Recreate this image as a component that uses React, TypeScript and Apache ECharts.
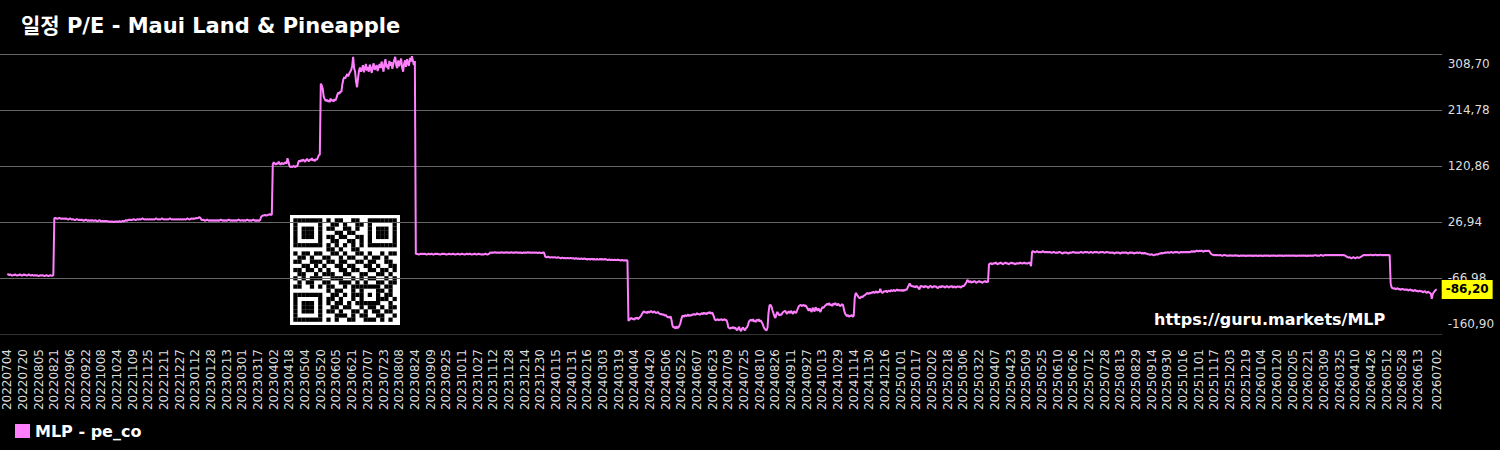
import React, { useEffect, useRef } from "react";
import * as echarts from "echarts";

const TITLE = "일정 P/E - Maui Land & Pineapple";
const SERIES_NAME = "MLP - pe_co";
const URL_TEXT = "https://guru.markets/MLP";
const LINE_COLOR = "#ff7fff";

const FIRST_DATE = "2022-07-04";
const LAST_DATE = "2026-07-02";

const Y_MIN = -160.9;
const Y_MAX = 308.7;
const Y_INTERVAL = 93.92;

// P/E values per month (each inner array = consecutive days of that month)
const pe2022: number[][] = [
  [-60,-61,-62,-61,-62,-63,-62,-62,-61,-62,-63,-62,-62,-61,-62,-63,-62,-61,-62,-62,-63,-62,-61,-62,-63,-62,-62,-63],
  [-62,-63,-62,-63,-64,-63,-62,-63,-62,-63,-64,-63,-62,-63,-64,-63,-62,-63,-63,-62,33,34,33,32,33,34,33,32,33,32,33],
  [32,33,32,31,32,33,32,31,32,31,30,31,32,31,30,31,30,31,30,29,30,31,30,29,30,29,30,29,30,29],
  [29,30,29,28,29,30,29,28,29,28,29,28,29,28,28,27,28,27,28,27,27,28,27,28,27,28,28,27,28,29,28],
  [29,30,29,30,31,30,31,30,31,32,31,30,31,32,31,32,31,32,33,32,31,32,31,32,31,32,31,32,31,32],
  [31,32,33,32,31,32,31,32,33,32,31,32,31,32,31,32,33,32,31,32,31,32,31,32,31,32,31,32,31,32,31],
];
const pe2023: number[][] = [
  [32,31,32,33,32,31,32,33,32,33,32,33,34,33,34,35,34,31,30,31,30,29,30,31,30,29,30,29,30,29,30],
  [29,30,29,30,29,30,31,30,29,30,29,30,29,30,31,30,29,30,29,30,29,30,29,30,31,30,29,30],
  [30,29,30,29,30,31,30,29,30,29,30,31,30,29,30,29,30,29,30,35,37,38,38,39,38,38,39,39,40,39,39],
  [124,127,125,123,126,124,128,125,123,126,125,124,126,127,125,134,128,121,119,120,119,121,120,119,121,120,127,130,128,131],
  [129,132,130,128,131,133,130,129,132,131,134,130,132,129,133,131,135,139,140,259,256,250,237,233,230,232,229,231,228,234,230],
  [232,229,233,231,235,241,244,242,246,245,258,266,270,268,272,275,271,276,279,282,288,304,285,279,262,253,268,281,286,279],
  [283,290,278,285,292,281,287,279,291,284,277,288,293,282,286,290,280,287,292,285,296,288,279,294,300,286,291,283,297,289,295],
  [284,292,299,304,290,285,298,288,295,301,286,279,292,298,287,300,293,289,302,296,305,298,290,297,-27,-26,-27,-28,-27,-26,-27],
  [-26,-27,-26,-27,-28,-27,-26,-27,-27,-26,-27,-28,-27,-26,-27,-26,-27,-27,-28,-27,-26,-27,-26,-27,-28,-27,-27,-26,-27,-27],
  [-27,-26,-27,-28,-27,-27,-26,-27,-28,-27,-26,-27,-27,-28,-27,-26,-27,-27,-26,-27,-28,-27,-27,-26,-27,-28,-27,-26,-27,-27,-28],
  [-27,-28,-27,-26,-27,-28,-27,-26,-24,-25,-24,-25,-24,-24,-25,-24,-25,-24,-25,-24,-24,-25,-24,-25,-24,-24,-25,-24,-25,-24],
  [-24,-25,-24,-25,-24,-24,-25,-24,-25,-24,-25,-25,-24,-25,-24,-25,-24,-24,-25,-24,-25,-24,-25,-24,-25,-24,-25,-25,-24,-25,-25],
];
const pe2024: number[][] = [
  [-25,-24,-25,-31,-32,-32,-31,-32,-33,-32,-32,-33,-32,-32,-33,-33,-32,-33,-33,-34,-33,-33,-34,-33,-34,-34,-33,-34,-34,-33,-34],
  [-34,-34,-35,-34,-34,-35,-34,-35,-35,-34,-35,-35,-34,-35,-35,-36,-35,-35,-36,-35,-35,-36,-35,-36,-36,-35,-36,-36,-35],
  [-36,-35,-36,-36,-35,-36,-36,-37,-36,-36,-37,-36,-37,-37,-36,-37,-37,-36,-37,-37,-38,-37,-37,-38,-37,-38,-37,-38,-139,-137,-135],
  [-134,-136,-135,-137,-134,-135,-133,-136,-134,-132,-130,-127,-124,-123,-125,-124,-126,-123,-125,-124,-122,-124,-125,-123,-124,-126,-125,-124,-126,-127],
  [-128,-127,-129,-128,-130,-129,-131,-133,-132,-134,-131,-138,-147,-150,-149,-152,-148,-151,-150,-147,-143,-136,-131,-130,-132,-129,-131,-130,-128,-131,-129],
  [-130,-128,-129,-127,-129,-128,-126,-128,-127,-129,-127,-126,-128,-125,-127,-126,-128,-125,-126,-124,-127,-125,-126,-131,-136,-138,-137,-136,-138,-137],
  [-137,-136,-138,-137,-136,-138,-137,-142,-150,-151,-152,-150,-151,-149,-152,-150,-153,-155,-151,-149,-154,-156,-152,-150,-153,-155,-151,-150,-146,-140,-138],
  [-137,-139,-136,-140,-138,-141,-137,-139,-136,-140,-138,-141,-144,-149,-152,-154,-155,-150,-125,-113,-112,-115,-121,-126,-131,-134,-128,-124,-127,-130,-128],
  [-129,-126,-124,-123,-122,-125,-127,-124,-123,-126,-122,-125,-127,-123,-124,-126,-122,-118,-114,-113,-112,-114,-113,-112,-114,-113,-116,-119,-122,-118],
  [-121,-124,-117,-120,-123,-116,-119,-122,-118,-121,-124,-119,-116,-117,-115,-113,-112,-110,-112,-109,-113,-111,-114,-110,-112,-109,-111,-113,-110,-112,-114],
  [-113,-111,-112,-120,-126,-129,-131,-129,-132,-130,-131,-129,-132,-130,-100,-92,-94,-97,-99,-101,-100,-98,-99,-97,-96,-95,-93,-92,-94,-92],
  [-93,-91,-92,-90,-92,-91,-89,-92,-90,-91,-85,-90,-92,-91,-89,-90,-88,-91,-89,-88,-90,-87,-89,-88,-87,-89,-88,-86,-88,-87,-88],
];
const pe2025: number[][] = [
  [-88,-87,-89,-87,-88,-86,-87,-83,-80,-76,-79,-81,-80,-82,-81,-83,-80,-82,-84,-86,-81,-80,-82,-81,-83,-80,-82,-81,-84,-82,-80],
  [-81,-83,-82,-80,-82,-81,-83,-84,-82,-81,-83,-80,-82,-81,-83,-82,-80,-82,-83,-81,-82,-80,-83,-82,-81,-83,-82,-81],
  [-82,-81,-83,-82,-80,-81,-79,-77,-74,-70,-73,-74,-72,-75,-73,-74,-72,-73,-75,-74,-73,-72,-74,-73,-75,-74,-73,-72,-74,-73,-74],
  [-44,-43,-42,-44,-43,-42,-43,-41,-43,-44,-42,-43,-41,-42,-44,-43,-42,-41,-43,-42,-44,-43,-42,-41,-43,-42,-43,-44,-42,-43],
  [-42,-43,-41,-42,-43,-42,-41,-43,-42,-43,-42,-41,-43,-47,-23,-22,-23,-24,-23,-22,-23,-24,-23,-24,-23,-22,-23,-24,-23,-24,-23],
  [-24,-23,-24,-25,-24,-23,-24,-25,-24,-25,-24,-23,-24,-25,-26,-25,-24,-25,-24,-25,-26,-25,-24,-25,-24,-23,-24,-25,-24,-25],
  [-24,-25,-24,-23,-24,-25,-24,-23,-24,-23,-24,-25,-24,-23,-24,-25,-24,-23,-24,-23,-24,-25,-24,-23,-24,-23,-24,-25,-24,-23,-24],
  [-24,-25,-24,-25,-24,-25,-26,-25,-24,-25,-24,-25,-26,-25,-24,-25,-24,-25,-24,-25,-26,-25,-24,-25,-24,-25,-26,-25,-25,-24,-25],
  [-25,-24,-25,-26,-25,-26,-25,-26,-26,-27,-27,-28,-28,-27,-28,-29,-28,-28,-27,-28,-27,-26,-26,-25,-26,-25,-25,-24,-25,-24],
  [-24,-25,-24,-23,-24,-25,-24,-23,-24,-23,-24,-25,-24,-23,-24,-23,-24,-23,-24,-23,-24,-23,-24,-23,-22,-23,-22,-23,-22,-21,-22],
  [-22,-21,-22,-21,-22,-23,-21,-22,-21,-22,-21,-22,-25,-27,-28,-28,-29,-28,-29,-28,-29,-29,-28,-29,-30,-29,-28,-29,-29,-30],
  [-29,-30,-29,-29,-30,-29,-30,-29,-29,-30,-29,-30,-30,-29,-30,-29,-30,-29,-30,-30,-29,-30,-29,-30,-29,-30,-30,-29,-30,-29,-30],
];
const pe2026: number[][] = [
  [-30,-29,-30,-29,-30,-30,-29,-30,-29,-30,-29,-30,-30,-29,-30,-29,-30,-29,-30,-30,-29,-30,-29,-30,-29,-30,-30,-29,-30,-29,-30],
  [-29,-30,-29,-30,-29,-30,-29,-30,-30,-29,-30,-29,-30,-29,-30,-29,-30,-29,-30,-30,-29,-30,-29,-30,-29,-30,-29,-29],
  [-29,-30,-29,-30,-29,-28,-29,-30,-29,-28,-29,-28,-29,-28,-29,-28,-29,-28,-29,-28,-29,-28,-29,-28,-29,-28,-29,-28,-29,-29,-30],
  [-31,-32,-33,-32,-33,-34,-33,-32,-33,-34,-33,-32,-33,-33,-32,-31,-30,-29,-28,-29,-28,-29,-28,-29,-28,-28,-29,-28,-29,-28],
  [-28,-29,-28,-29,-28,-28,-29,-28,-29,-28,-29,-28,-29,-28,-29,-76,-83,-84,-85,-84,-86,-85,-84,-86,-85,-87,-86,-85,-86,-87,-86],
  [-87,-86,-88,-87,-86,-88,-87,-89,-88,-87,-89,-88,-90,-89,-88,-90,-89,-91,-90,-89,-91,-92,-90,-91,-92,-93,-102,-94,-91,-89],
  [-87,-86.2],
];

// [year, first month, first day of first month, months]
const peBlocks: [number, number, number, number[][]][] = [
  [2022, 7, 4, pe2022],
  [2023, 1, 1, pe2023],
  [2024, 1, 1, pe2024],
  [2025, 1, 1, pe2025],
  [2026, 1, 1, pe2026],
];

// QR code modules (1 = dark)
const qrRows: string[] = [
  "1111111010110011001111111",
  "1000001001101001101000001",
  "1011101011001101001011101",
  "1011101000110110001011101",
  "1011101011011001101011101",
  "1000001001100110101000001",
  "1111111010101010101111111",
  "0000000011010011000000000",
  "1011011001101001101001011",
  "0110100110010110010110100",
  "1100111011011001101100110",
  "0011010100110110011010011",
  "1101101010011011001101101",
  "0110010111001100110011010",
  "1010111001110010101100101",
  "0101100110011101010011011",
  "1100101011001011111110110",
  "0000000010110010100011010",
  "1111111001101011101010110",
  "1000001011010010100011101",
  "1011101010110101111110010",
  "1011101001101100101101011",
  "1011101011010011010110110",
  "1000001000111010110011001",
  "1111111010100110011101010",
];

const pad = (n: number) => (n < 10 ? "0" + n : "" + n);
const fmt = (v: number) => v.toFixed(2).replace(".", ",");

function buildData() {
  const byDate: Record<string, number> = {};
  for (const [year, firstMonth, firstDay, months] of peBlocks) {
    months.forEach((vals, k) => {
      const month = firstMonth + k;
      const startDay = k === 0 ? firstDay : 1;
      vals.forEach((v, j) => {
        byDate[`${year}${pad(month)}${pad(startDay + j)}`] = v;
      });
    });
  }
  const dates: string[] = [];
  const values: (number | null)[] = [];
  const d = new Date(FIRST_DATE + "T00:00:00Z");
  const end = new Date(LAST_DATE + "T00:00:00Z");
  while (d.getTime() <= end.getTime()) {
    const key = `${d.getUTCFullYear()}${pad(d.getUTCMonth() + 1)}${pad(d.getUTCDate())}`;
    dates.push(key);
    values.push(key in byDate ? byDate[key] : null);
    d.setUTCDate(d.getUTCDate() + 1);
  }
  return { dates, values };
}

export default function App() {
  const ref = useRef<HTMLDivElement>(null);
  useEffect(() => {
    if (!ref.current) return;
    const chart = echarts.init(ref.current, undefined, { renderer: "svg" });
    const { dates, values } = buildData();
    const lastIdx = dates.length - 1;

    const qrModule = 4.136;
    const qrOffset = 3.3;
    const qrChildren: any[] = [
      { type: "rect", shape: { x: 0, y: 0, width: 110, height: 110 }, style: { fill: "#fff" } },
    ];
    qrRows.forEach((row, r) => {
      for (let c = 0; c < row.length; c++) {
        if (row[c] === "1") {
          qrChildren.push({
            type: "rect",
            shape: { x: qrOffset + c * qrModule, y: qrOffset + r * qrModule, width: qrModule + 0.1, height: qrModule + 0.1 },
            style: { fill: "#000" },
          });
        }
      }
    });

    const option: any = {
      animation: false,
      backgroundColor: "#000",
      textStyle: { fontFamily: "DejaVu Sans" },
      title: {
        text: TITLE,
        left: 16,
        top: 10,
        textStyle: { color: "#fff", fontSize: 21, fontWeight: "bold", fontFamily: "DejaVu Sans, Noto Sans CJK KR" },
      },
      legend: {
        left: 15,
        top: 423,
        padding: 0,
        icon: "rect",
        itemWidth: 15,
        itemHeight: 14,
        data: [SERIES_NAME],
        textStyle: { color: "#fff", fontSize: 16, fontWeight: "bold" },
      },
      grid: [
        { left: 7.3, right: 63.3, top: 54, bottom: 116 },
        { left: 0, right: 58, top: 54, bottom: 116 },
      ],
      xAxis: [
        {
          type: "category",
          gridIndex: 0,
          data: dates,
          boundaryGap: false,
          axisLine: { show: false },
          axisTick: { show: false },
          splitLine: { show: false },
          axisLabel: {
            rotate: 90,
            color: "#ddd",
            fontSize: 12,
            margin: 15,
            interval: (i: number) => (i % 16 === 0 && i <= lastIdx - 16) || i === lastIdx,
          },
        },
        {
          type: "value",
          gridIndex: 1,
          min: 0,
          max: 1,
          axisLine: { show: true, onZero: false, lineStyle: { color: "#333" } },
          axisTick: { show: false },
          axisLabel: { show: false },
          splitLine: { show: false },
        },
      ],
      yAxis: [
        {
          type: "value",
          gridIndex: 0,
          position: "right",
          min: Y_MIN,
          max: Y_MAX,
          interval: Y_INTERVAL,
          splitLine: { show: false },
          axisLine: { show: false },
          axisTick: { show: false },
          axisLabel: {
            color: "#ddd",
            fontSize: 12,
            lineHeight: 20,
            margin: 11,
            verticalAlignMinLabel: "bottom",
            verticalAlignMaxLabel: "top",
            formatter: (v: number) => fmt(v),
          },
        },
        {
          type: "value",
          gridIndex: 1,
          min: Y_MIN,
          max: Y_MAX,
          interval: Y_INTERVAL,
          axisLine: { show: false },
          axisTick: { show: false },
          axisLabel: { show: false },
          splitLine: { show: true, lineStyle: { color: "#666", width: 1 } },
        },
      ],
      series: [
        {
          type: "line",
          name: SERIES_NAME,
          xAxisIndex: 0,
          yAxisIndex: 0,
          data: values,
          showSymbol: false,
          connectNulls: true,
          lineStyle: { color: LINE_COLOR, width: 2 },
          itemStyle: { color: LINE_COLOR },
          endLabel: {
            show: true,
            formatter: (p: any) => fmt(Array.isArray(p.value) ? p.value[1] : p.value),
            color: "#000",
            backgroundColor: "#ffff00",
            fontWeight: "bold",
            fontSize: 12,
            padding: [4, 4, 3, 4],
            distance: 5,
          },
        },
      ],
      graphic: [
        { type: "group", x: 290, y: 215, z: 100, children: qrChildren },
        {
          type: "text",
          left: 1154,
          top: 311,
          z: 100,
          style: { text: URL_TEXT, fill: "#fff", font: "bold 16px DejaVu Sans" },
        },
      ],
    };
    chart.setOption(option);
    return () => chart.dispose();
  }, []);
  return <div ref={ref} style={{ position: "absolute", left: 0, top: 0, width: 1500, height: 450 }} />;
}
